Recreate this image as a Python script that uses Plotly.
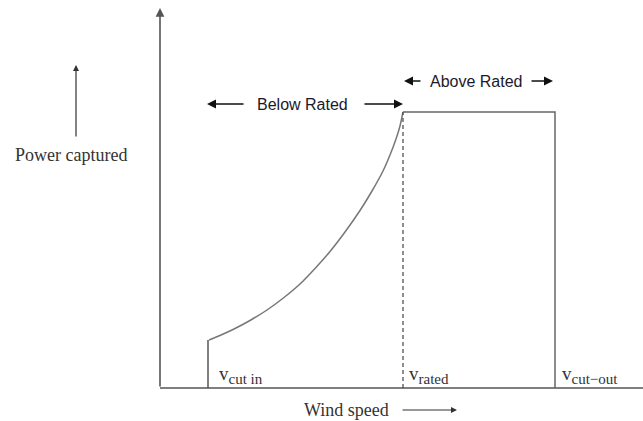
import plotly.graph_objects as go

# Schematic wind-turbine power curve (arbitrary units)
cut_in_speed = 48
rated_speed = 243
cut_out_speed = 395
rated_power = 276
cut_in_power = 48

curve_speed = [49, 61, 73, 90, 107, 124, 140, 155, 170, 185, 200, 212, 223, 230, 236, 240, 243]
curve_power = [48, 53, 58.5, 67.5, 78, 90.5, 104, 119.5, 136.5, 156, 177.5, 197, 217, 233, 249, 262, 276]

x_axis_end = 483
y_axis_top = 380

axis_color = "#555555"
line_color = "#777777"
serif = "\"Liberation Serif\", \"Times New Roman\", serif"
sans = "\"Liberation Sans\", Arial, sans-serif"

fig = go.Figure()

# axis line (x)
fig.add_trace(go.Scatter(x=[0, x_axis_end], y=[0, 0], mode="lines",
                         line=dict(color=axis_color, width=1.6), hoverinfo="skip"))
# cut-in vertical
fig.add_trace(go.Scatter(x=[cut_in_speed, cut_in_speed], y=[0, cut_in_power], mode="lines",
                         line=dict(color="#555555", width=1.5), hoverinfo="skip"))
# below rated curve
fig.add_trace(go.Scatter(x=curve_speed, y=curve_power, mode="lines",
                         line=dict(color=line_color, width=1.5, shape="spline", smoothing=0.6),
                         hoverinfo="skip"))
# rated dashed
fig.add_trace(go.Scatter(x=[rated_speed, rated_speed], y=[0, rated_power], mode="lines",
                         line=dict(color="#444444", width=1.2, dash="4px,3px"), hoverinfo="skip"))
# above rated plateau and cut-out
fig.add_trace(go.Scatter(x=[rated_speed, cut_out_speed, cut_out_speed],
                         y=[rated_power, rated_power, 0], mode="lines",
                         line=dict(color="#666666", width=1.5), hoverinfo="skip"))

def arrow(x, y, ax, ay, color="#222222", width=1.4, size=1.0):
    fig.add_annotation(x=x, y=y, ax=ax, ay=ay, xref="x", yref="y", axref="x", ayref="y",
                       text="", showarrow=True, arrowhead=2, arrowsize=size,
                       arrowwidth=width, arrowcolor=color)

# y axis with arrow
arrow(0, y_axis_top, 0, 0, color=axis_color, width=1.6, size=1.1)
# power captured arrow
arrow(-84, 323, -84, 250, color="#333333", width=1.2)
# wind speed arrow
arrow(297, -22, 241, -22, color="#333333", width=1.2)
# below rated arrows
arrow(47, 284, 85, 284, color="#111111", width=1.5, size=1.2)
arrow(243, 284, 203, 284, color="#111111", width=1.5, size=1.2)
# above rated arrows
arrow(244, 307, 262, 307, color="#111111", width=1.5, size=1.2)
arrow(393, 307, 370, 307, color="#111111", width=1.5, size=1.2)

def label(x, y, text, font, size, color, xanchor="center"):
    fig.add_annotation(x=x, y=y, xref="x", yref="y", text=text, showarrow=False,
                       xanchor=xanchor, yanchor="middle",
                       font=dict(family=font, size=size, color=color))

def vlabel(sub):
    return "v<sub><span style='font-size:15px'>" + sub + "</span></sub>"

label(142, 284, "Below Rated", sans, 16, "#1a1a2a")
label(316, 307, "Above Rated", sans, 16, "#1a1a2a")
label(-89, 233, "Power captured", serif, 18, "#333333")
label(186, -22, "Wind speed", serif, 18, "#333333")
label(57, 13, vlabel("cut in"), serif, 19, "#333333", xanchor="left")
label(247, 13, vlabel("rated"), serif, 19, "#333333", xanchor="left")
label(400, 13, vlabel("cut\u2212out"), serif, 19, "#333333", xanchor="left")

fig.update_layout(
    width=643, height=421,
    margin=dict(l=0, r=0, t=0, b=0),
    paper_bgcolor="white", plot_bgcolor="white",
    showlegend=False,
    xaxis=dict(range=[-160, 483], visible=False, fixedrange=True),
    yaxis=dict(range=[-33, 388], visible=False, fixedrange=True),
)

fig.write_html("out.html", config={"displayModeBar": False},
               post_script="document.body.style.margin='0';document.body.style.overflow='hidden';")
